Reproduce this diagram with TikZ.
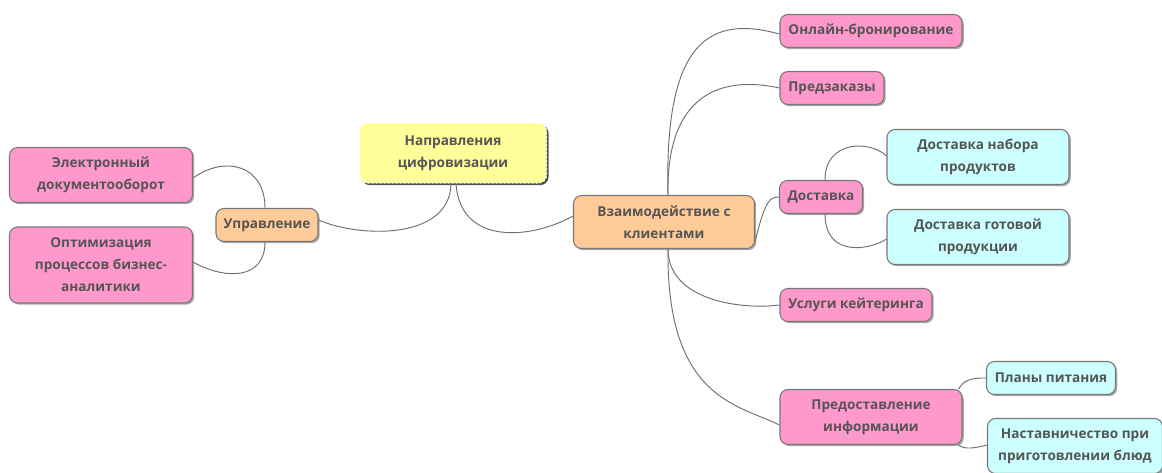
\documentclass[tikz,border=0pt]{standalone}
\usepackage{fontspec}
\setmainfont{Open Sans}
\usetikzlibrary{shadows}
\definecolor{pinkc}{HTML}{FF99CC}
\definecolor{orangec}{HTML}{FFCC99}
\definecolor{cyanc}{HTML}{CCFFFF}
\definecolor{yellowc}{HTML}{FFFF99}
\definecolor{txt}{HTML}{555555}
\definecolor{edge}{HTML}{777777}
\definecolor{conn}{HTML}{6E6E6E}
\tikzset{
  box/.style={draw=edge, line width=0.8pt, rounded corners=6pt, align=center,
    text=txt, font=\fontsize{10.2}{16.5}\selectfont\bfseries, inner sep=0pt,
    drop shadow={shadow xshift=1.3pt, shadow yshift=-1.3pt, fill=black!60, opacity=0.55}},
  pinkbox/.style={box, fill=pinkc},
  orangebox/.style={box, fill=orangec},
  cyanbox/.style={box, fill=cyanc},
  centerbox/.style={box, fill=yellowc, draw=white, dash pattern=on 1.5pt off 1.5pt, line width=1pt,
    drop shadow={shadow xshift=1.5pt, shadow yshift=-1.5pt, fill=black!80, opacity=0.8}},
  link/.style={draw=conn, line width=0.7pt}
}
\begin{document}
\begin{tikzpicture}[x=0.75pt, y=-0.75pt]
\useasboundingbox (0,0) rectangle (1162,472);
% nodes
\node[centerbox, minimum width=187*0.75pt, minimum height=60*0.75pt] (c) at (453,153) {Направления\\цифровизации};
\node[orangebox, minimum width=102*0.75pt, minimum height=33*0.75pt] (u) at (267,225) {Управление};
\node[pinkbox, minimum width=183*0.75pt, minimum height=55*0.75pt] (e) at (101,175) {Электронный\\документооборот};
\node[pinkbox, minimum width=183*0.75pt, minimum height=76*0.75pt] (o) at (101,265) {Оптимизация\\процессов бизнес-\\аналитики};
\node[orangebox, minimum width=181*0.75pt, minimum height=53*0.75pt] (v) at (664,222) {Взаимодействие с\\клиентами};
\node[pinkbox, minimum width=182*0.75pt, minimum height=33*0.75pt] (on) at (871,31) {Онлайн-бронирование};
\node[pinkbox, minimum width=104*0.75pt, minimum height=33*0.75pt] (pz) at (832,88) {Предзаказы};
\node[pinkbox, minimum width=83*0.75pt, minimum height=33*0.75pt] (d) at (821,197) {Доставка};
\node[cyanbox, minimum width=182*0.75pt, minimum height=55*0.75pt] (dn) at (978,157) {Доставка набора\\продуктов};
\node[cyanbox, minimum width=182*0.75pt, minimum height=55*0.75pt] (dg) at (978,237) {Доставка готовой\\продукции};
\node[pinkbox, minimum width=152*0.75pt, minimum height=33*0.75pt] (uk) at (856,305) {Услуги кейтеринга};
\node[pinkbox, minimum width=182*0.75pt, minimum height=55*0.75pt] (pi) at (871,417) {Предоставление\\информации};
\node[cyanbox, minimum width=129*0.75pt, minimum height=33*0.75pt] (pp) at (1051,378) {Планы питания};
\node[cyanbox, minimum width=175*0.75pt, minimum height=55*0.75pt] (na) at (1075,446) {Наставничество при\\приготовлении блюд};
% connectors
\draw[link] ([xshift=-2*0.75pt]c.south) .. controls (450,240) and (360,238) .. ([yshift=5*0.75pt]u.east);
\draw[link] ([xshift=3*0.75pt]c.south) .. controls (460,245) and (530,240) .. ([yshift=6*0.75pt]v.west);
\draw[link] ([xshift=-2*0.75pt]u.north) .. controls (265,165) and (225,155) .. ([yshift=-3*0.75pt]e.east);
\draw[link] ([xshift=-2*0.75pt]u.south) .. controls (265,280) and (225,280) .. ([yshift=3*0.75pt]o.east);
\draw[link] ([xshift=4*0.75pt]v.north) .. controls (664,40) and (710,15) .. ([yshift=-3*0.75pt]on.west);
\draw[link] ([xshift=4*0.75pt]v.north) .. controls (666,95) and (720,75) .. (pz.west);
\draw[link] ([yshift=-20*0.75pt]v.east) .. controls (765,200) and (770,197) .. (d.west);
\draw[link] ([xshift=4*0.75pt]v.south) .. controls (668,300) and (740,310) .. (uk.west);
\draw[link] ([xshift=4*0.75pt]v.south) .. controls (666,400) and (740,405) .. ([yshift=-8*0.75pt]pi.west);
\draw[link] ([xshift=4*0.75pt]d.north) .. controls (825,140) and (870,140) .. ([yshift=1*0.75pt]dn.west);
\draw[link] ([xshift=4*0.75pt]d.south) .. controls (825,258) and (870,250) .. ([yshift=-2*0.75pt]dg.west);
\draw[link] ([xshift=-4*0.75pt]pi.north east) .. controls (965,378) and (975,378) .. (pp.west);
\draw[link] ([xshift=-4*0.75pt]pi.south east) .. controls (965,450) and (975,448) .. ([yshift=1*0.75pt]na.west);
\end{tikzpicture}
\end{document}
